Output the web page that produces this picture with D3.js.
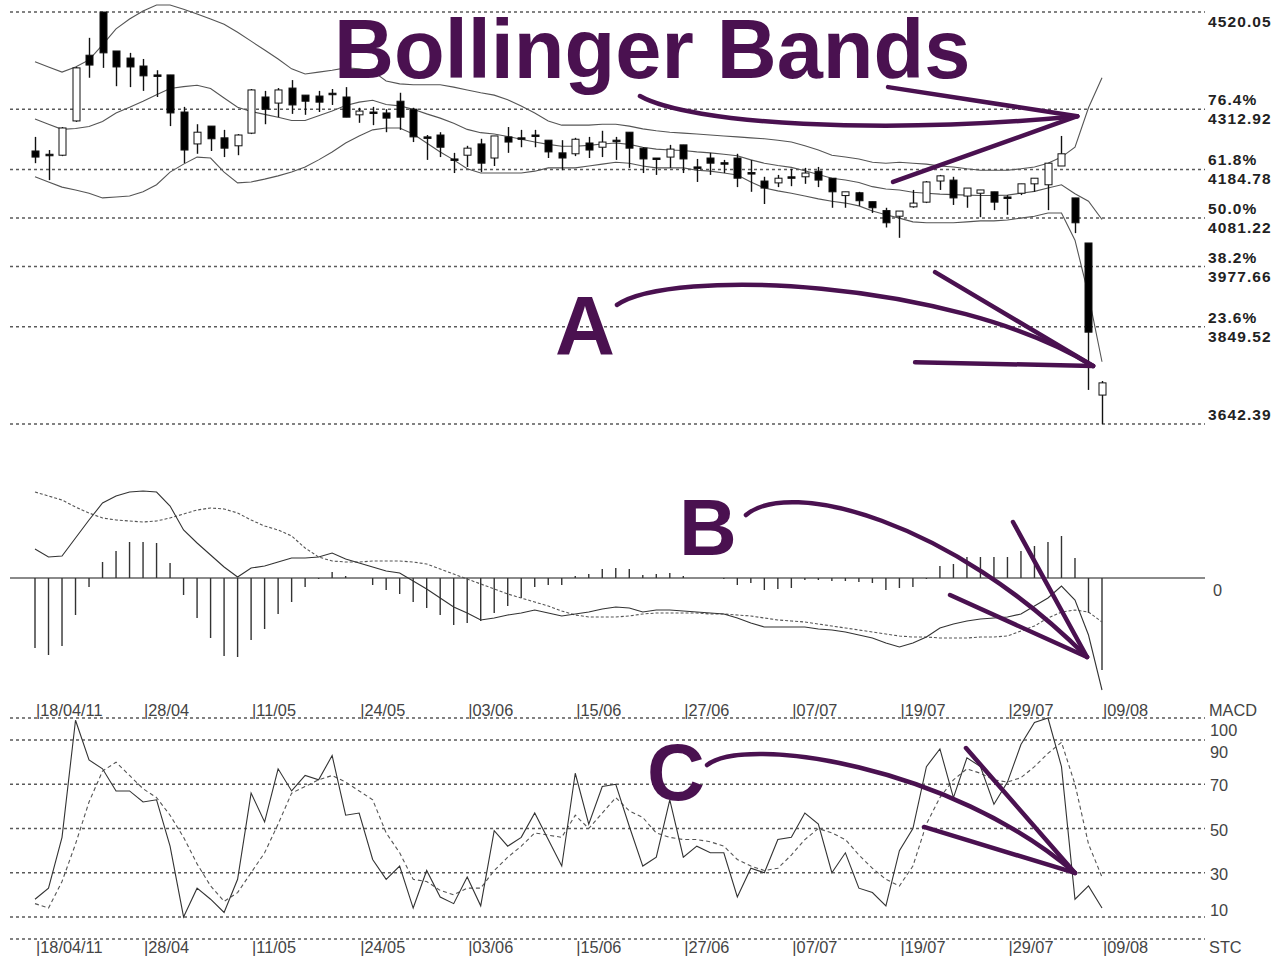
<!DOCTYPE html>
<html><head><meta charset="utf-8">
<script src="https://cdn.jsdelivr.net/npm/d3@7"></script>
<style>
html,body{margin:0;padding:0;background:#fff;}
svg{display:block;}
</style>
</head><body>
<svg id="chart" width="1277" height="959"></svg>
<script>
// ---------- DATA ----------
const tickIndex  = [0, 8, 16, 24, 32, 40, 48, 56, 64, 72, 79];
const tickLabels = ["18/04/11","28/04","11/05","24/05","03/06","15/06","27/06","07/07","19/07","29/07","09/08"];

const open  = [4224,4217,4215,4288,4428,4520,4437,4422,4405,4386, 4386,4307,4239,4277,4252,4235,4262,4339,4326,4358,
               4343,4341,4347,4339,4301,4307,4305,4330,4313,4254, 4258,4207,4215,4239,4209,4254,4252,4258,4247,4220,
               4218,4241,4232,4247,4264,4230,4209,4211,4237,4190, 4209,4199,4209,4178,4160,4156,4169,4169,4181,4166,
               4129,4135,4116,4097,4085,4105,4115,4160,4162,4128, 4134,4137,4126,4134,4154,4152,4192,4124,4028,3704];
const high  = [4254,4226,4275,4403,4465,4520,4437,4433,4420,4396, 4386,4318,4281,4277,4269,4260,4356,4352,4358,4375,
               4343,4352,4356,4360,4316,4318,4313,4348,4316,4258, 4264,4220,4235,4250,4256,4275,4269,4269,4247,4247,
               4252,4254,4267,4254,4264,4232,4209,4237,4237,4207, 4220,4205,4218,4205,4169,4173,4186,4188,4190,4166,
               4137,4137,4116,4103,4096,4141,4160,4173,4169,4145, 4141,4137,4130,4154,4166,4198,4256,4124,4028,3734];
const low   = [4198,4162,4213,4286,4380,4401,4362,4360,4352,4339, 4277,4198,4218,4224,4211,4215,4260,4281,4296,4303,
               4301,4307,4322,4296,4284,4279,4264,4269,4243,4205, 4211,4177,4190,4179,4192,4220,4232,4232,4209,4183,
               4213,4209,4211,4205,4188,4177,4173,4188,4177,4158, 4173,4177,4147,4137,4111,4147,4149,4154,4147,4103,
               4103,4107,4092,4061,4039,4103,4113,4141,4109,4103, 4083,4098,4088,4130,4137,4098,4192,4049,3715,3642];
const close = [4211,4216,4273,4401,4407,4433,4403,4403,4384,4384, 4305,4226,4264,4250,4230,4258,4354,4313,4354,4322,
               4330,4328,4346,4296,4309,4306,4294,4296,4254,4253, 4232,4206,4230,4198,4256,4243,4251,4257,4222,4209,
               4249,4226,4243,4246,4230,4207,4208,4228,4207,4189, 4198,4198,4166,4177,4145,4166,4168,4177,4162,4137,
               4137,4118,4103,4071,4096,4113,4158,4171,4124,4145, 4141,4115,4125,4154,4166,4198,4218,4071,3838,3730];

const bandUpper  = [4414,4403,4392,4403,4418,4450,4484,4505,4522,4535, 4535,4526,4516,4505,4494,4477,4458,4439,4420,4399,
                    4388,4392,4396,4401,4399,4394,4373,4367,4365,4365, 4365,4360,4354,4348,4343,4333,4320,4305,4288,4279,
                    4279,4279,4281,4281,4277,4271,4267,4264,4262,4260, 4258,4256,4254,4252,4250,4247,4243,4235,4226,4215,
                    4211,4207,4200,4198,4200,4198,4196,4192,4190,4186, 4183,4183,4183,4186,4190,4198,4211,4232,4316,4380];
const bandMiddle = [4292,4281,4270,4272,4276,4287,4305,4317,4330,4344, 4357,4361,4364,4357,4337,4317,4308,4302,4296,4289,
                    4289,4299,4309,4321,4328,4332,4323,4320,4313,4303, 4294,4283,4270,4263,4260,4255,4249,4243,4238,4234,
                    4234,4236,4239,4241,4238,4232,4228,4226,4225,4222, 4220,4217,4214,4205,4198,4193,4189,4182,4174,4166,
                    4162,4157,4148,4143,4141,4136,4134,4132,4131,4130, 4129,4129,4130,4134,4138,4145,4152,4133,4117,4078];
const bandLower  = [4169,4158,4147,4141,4134,4124,4126,4128,4137,4152, 4179,4196,4211,4209,4179,4156,4158,4164,4171,4179,
                    4190,4205,4222,4241,4256,4269,4273,4273,4260,4241, 4222,4205,4186,4177,4177,4177,4177,4181,4188,4188,
                    4188,4192,4196,4200,4198,4192,4188,4188,4188,4183, 4181,4177,4173,4158,4145,4139,4134,4128,4122,4117,
                    4113,4107,4096,4088,4081,4073,4071,4071,4071,4073, 4075,4075,4077,4081,4085,4092,4092,4034,3917,3775];

const fibLevels = [4520.05, 4312.92, 4184.78, 4081.22, 3977.66, 3849.52, 3642.39];
const fibPrice  = ["4520.05","4312.92","4184.78","4081.22","3977.66","3849.52","3642.39"];
const fibPct    = ["", "76.4%", "61.8%", "50.0%", "38.2%", "23.6%", ""];

const macdLine   = [29,21,22,40,58,75,82,86,87,86, 72,48,35,23,11,1,10,12,16,20, 20,21,25,19,15,11,7,5,-3,-11,
                    -20,-29,-35,-42,-40,-37,-35,-32,-35,-38, -36,-34,-31,-29,-30,-34,-32,-32,-33,-34,
                    -35,-36,-40,-45,-49,-49,-49,-49,-51,-52, -54,-57,-60,-65,-69,-65,-59,-50,-46,-43,
                    -41,-40,-39,-36,-28,-20,-8,-22,-57,-112];
const macdSignal = [86,82,78,71,65,60,58,57,56,57, 60,64,68,70,69,65,58,52,48,42, 30,21,17,16,16,17,17,17,16,14,
                    9,4,-1,-6,-11,-16,-20,-24,-28,-33, -37,-39,-39,-39,-38,-36,-35,-35,-35,-35,
                    -36,-36,-37,-38,-40,-42,-43,-44,-46,-48, -50,-52,-54,-56,-58,-59,-59,-60,-60,-60,
                    -59,-59,-58,-53,-48,-40,-34,-32,-34,-44];
const macdHist   = [-70,-77,-68,-37,-9,16,27,36,36,35, 15,-17,-40,-60,-78,-79,-62,-51,-36,-24, -9,-1,6,2,0,-7,-12,-16,-24,-30,
                    -37,-47,-45,-43,-35,-28,-20,-9,-7,-7, 2,4,9,10,9,3,4,5,2,0,
                    0,-1,-7,-5,-12,-11,-10,-2,-2,-3, -3,-4,-5,-12,-10,-9,-1,12,14,21,
                    21,21,21,27,32,36,42,20,-35,-92];

const stcK = [18,23,46,99,81,77,67,67,62,63, 42,10,23,18,12,27,66,53,77,67, 74,72,83,56,57,36,27,33,14,31,
              19,16,28,15,49,42,46,57,45,33, 75,52,69,70,51,33,37,63,37,42, 39,39,19,32,30,45,46,57,52,30,
              39,23,21,15,40,50,78,86,64,82, 78,61,71,88,98,100,78,18,24,14];
const stcD = [16,14,26,43,62,76,80,74,68,64, 56,46,34,24,17,21,30,39,52,66, 69,72,74,71,67,63,48,39,27,26,
              22,20,23,23,31,37,42,48,47,46, 56,50,57,64,58,55,48,46,45,45, 44,42,36,33,31,32,38,45,50,48,
              45,38,32,27,24,33,52,64,72,77, 75,72,71,73,78,84,89,70,43,28];
const stcLevels = [100, 90, 70, 50, 30, 10, 0];
const stcLabels = ["100","90","70","50","30","10"];

// annotation anchors in data coordinates [barIndex, value]
const annoTop = {curve:[[44.79,4341],[48.5,4281],[62.56,4258],[77.17,4298]], spokes:[[63.16,4360],[63.53,4158]]};
const annoA   = {curve:[[43.09,3896],[47.02,3975],[67.75,3953],[78.34,3766]], spokes:[[66.64,3966],[65.16,3774]]};
const annoB   = {curve:[[52.64,63],[55.9,100],[67.75,58],[77.89,-79]], spokes:[[72.41,56],[67.75,-17]]};
const annoC   = {curve:[[49.76,78.7],[52.57,92.3],[67.75,78.7],[77.0,29.9]], spokes:[[68.93,86.4],[65.82,50.7]]};

// ---------- DRAW ----------
const svg = d3.select("#chart");
const N = open.length;
const idx = d3.range(N);
const x  = d3.scaleLinear().domain([0, N - 1]).range([35, 1102]);
const yP = d3.scaleLinear().domain([3642.39, 4520.05]).range([424, 12]);
const yM = d3.scaleLinear().domain([-140, 100]).range([718, 478]);
const yS = d3.scaleLinear().domain([0, 100]).range([939, 718]);
const X0 = 10, X1 = 1205;
const purple = "#4a1150";
const gridCol = "#5a5a5a";
const lblFont = "'Liberation Sans', Arial, sans-serif";

function narrow(sel, px, py, txt) {
  return sel.append("text")
    .attr("transform", `translate(${px},${py}) scale(0.96,1)`)
    .attr("font-family", lblFont).attr("font-size", 17).attr("fill", "#444")
    .text(txt);
}

// Fibonacci levels
const gF = svg.append("g");
gF.selectAll("line").data(fibLevels).join("line")
  .attr("x1", X0).attr("x2", X1)
  .attr("y1", d => yP(d)).attr("y2", d => yP(d))
  .attr("stroke", gridCol).attr("stroke-width", 1.5).attr("stroke-dasharray", "3,3");
gF.selectAll("text.p").data(fibLevels).join("text").attr("class", "p")
  .attr("x", 1208)
  .attr("y", (d, i) => i === fibLevels.length - 1 ? yP(d) - 4 : yP(d) + 15)
  .attr("font-family", lblFont).attr("font-size", 15.5).attr("font-weight", "bold")
  .attr("letter-spacing", 1.1).attr("fill", "#222")
  .text((d, i) => fibPrice[i]);
gF.selectAll("text.q").data(fibLevels).join("text").attr("class", "q")
  .attr("x", 1208).attr("y", d => yP(d) - 4)
  .attr("font-family", lblFont).attr("font-size", 15.5).attr("font-weight", "bold")
  .attr("letter-spacing", 1.1).attr("fill", "#222")
  .text((d, i) => fibPct[i]);

// Bollinger bands
const bandLine = arr => d3.line().x((d, i) => x(i)).y(d => yP(d))(arr);
[bandUpper, bandMiddle, bandLower].forEach(arr => {
  svg.append("path").attr("d", bandLine(arr)).attr("fill", "none")
    .attr("stroke", "#555").attr("stroke-width", 1.1);
});

// Candles
const gC = svg.append("g");
gC.selectAll("line").data(idx).join("line")
  .attr("x1", i => Math.round(x(i)) + 0.5).attr("x2", i => Math.round(x(i)) + 0.5)
  .attr("y1", i => yP(high[i])).attr("y2", i => yP(low[i]))
  .attr("stroke", "#111").attr("stroke-width", 1.4);
gC.selectAll("rect").data(idx).join("rect")
  .attr("x", i => Math.round(x(i)) - 3)
  .attr("width", 7)
  .attr("y", i => yP(Math.max(open[i], close[i])))
  .attr("height", i => Math.max(1.5, Math.abs(yP(open[i]) - yP(close[i]))))
  .attr("fill", i => close[i] > open[i] ? "#fff" : "#000")
  .attr("stroke", "#111").attr("stroke-width", 1);

// MACD panel
svg.append("line").attr("x1", X0).attr("x2", X1).attr("y1", yM(0)).attr("y2", yM(0))
  .attr("stroke", "#8a8a8a").attr("stroke-width", 2);
svg.append("g").selectAll("line").data(idx).join("line")
  .attr("x1", i => x(i)).attr("x2", i => x(i))
  .attr("y1", yM(0)).attr("y2", i => yM(macdHist[i]))
  .attr("stroke", "#333").attr("stroke-width", 1.4);
const mLine = d3.line().x((d, i) => x(i)).y(d => yM(d));
svg.append("path").attr("d", mLine(macdSignal)).attr("fill", "none")
  .attr("stroke", "#555").attr("stroke-width", 1.1).attr("stroke-dasharray", "3,2");
svg.append("path").attr("d", mLine(macdLine)).attr("fill", "none")
  .attr("stroke", "#333").attr("stroke-width", 1.1);
narrow(svg, 1213, 596, "0");

// STC panel
svg.append("g").selectAll("line").data(stcLevels).join("line")
  .attr("x1", X0).attr("x2", X1).attr("y1", d => yS(d)).attr("y2", d => yS(d))
  .attr("stroke", gridCol).attr("stroke-width", 1.5).attr("stroke-dasharray", "3,3");
const stcLabelDy = [18, 18, 7, 7, 7, -1];
const gSL = svg.append("g");
stcLabels.forEach((t, i) => narrow(gSL, 1210, yS(stcLevels[i]) + stcLabelDy[i], t));
const sLine = d3.line().x((d, i) => x(i)).y(d => yS(d));
svg.append("path").attr("d", sLine(stcD)).attr("fill", "none")
  .attr("stroke", "#555").attr("stroke-width", 1.1).attr("stroke-dasharray", "4,3");
svg.append("path").attr("d", sLine(stcK)).attr("fill", "none")
  .attr("stroke", "#333").attr("stroke-width", 1.1);

// Date axes (under MACD and under STC)
[716, 953].forEach(base => {
  const g = svg.append("g");
  tickIndex.forEach((ti, k) => narrow(g, x(ti) + 1, base, "|" + tickLabels[k]));
});
narrow(svg, 1209, 716, "MACD");
narrow(svg, 1209, 953, "STC");

// ---------- ANNOTATIONS ----------
function drawAnno(a, ys) {
  const c = a.curve.map(p => [x(p[0]), ys(p[1])]);
  const p = d3.path();
  p.moveTo(c[0][0], c[0][1]);
  p.bezierCurveTo(c[1][0], c[1][1], c[2][0], c[2][1], c[3][0], c[3][1]);
  const g = svg.append("g").attr("stroke", purple).attr("stroke-width", 4.5)
    .attr("fill", "none").attr("stroke-linecap", "round");
  g.append("path").attr("d", p.toString());
  a.spokes.forEach(s => {
    g.append("line").attr("x1", x(s[0])).attr("y1", ys(s[1]))
      .attr("x2", c[3][0]).attr("y2", c[3][1]);
  });
}
drawAnno(annoTop, yP);
drawAnno(annoA, yP);
drawAnno(annoB, yM);
drawAnno(annoC, yS);

const big = (t, px, py, fs) => svg.append("text").attr("x", px).attr("y", py)
  .attr("font-family", "'Liberation Sans', Arial, sans-serif").attr("font-weight", "bold")
  .attr("font-size", fs).attr("fill", purple).text(t);
big("Bollinger Bands", 334, 78, 83);
big("A", 555, 355, 83);
big("B", 679, 555, 80);
big("C", 647, 800, 80);
</script>
</body></html>
